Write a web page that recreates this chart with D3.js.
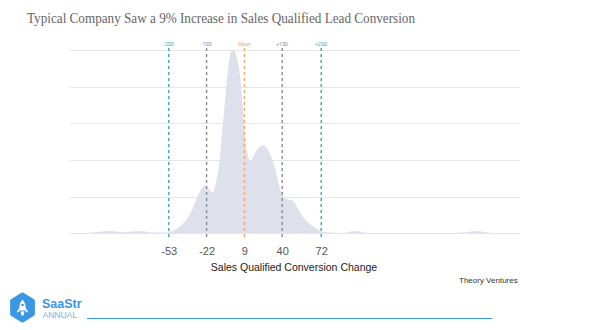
<!DOCTYPE html>
<html>
<head>
<meta charset="utf-8">
<script src="https://cdn.jsdelivr.net/npm/d3@7"></script>
<style>
  html, body { margin: 0; padding: 0; background: #fff; }
  svg { display: block; }
</style>
</head>
<body>
<svg id="chart" width="600" height="330"></svg>
<script>
// ---- data ----
const changeValues = [-134, -121.7, -109.4, -101.2, -91.4, -76.6, -66.8, -53.6, -47, -41.3, -37.2, -33.1, -29, -25.8, -22.9, -20, -16.7, -14.3, -11.8, -9.4, -6.9, -4.4, -2, 0.5, 2.9, 5.4, 7.9, 9.5, 11.2, 12.8, 14.4, 16.9, 20.2, 24.3, 27.5, 30.8, 34.1, 37.4, 40.7, 43.9, 48, 51.3, 54.6, 58.7, 62.8, 67.7, 72.6, 79.2, 87.4, 94, 99.7, 105.4, 113.6, 169.4, 190.7, 199, 207, 218.6, 235];
const densityValues = [0, 0.005, 0.04, 0.06, 0.03, 0.06, 0.02, 0.03, 0.12, 0.27, 0.44, 0.71, 1.04, 1.23, 1.31, 1.2, 1.12, 1.39, 1.86, 2.68, 3.63, 4.45, 4.95, 5.0, 4.78, 4.32, 3.36, 2.68, 2.21, 2.02, 1.99, 2.13, 2.32, 2.40, 2.32, 2.10, 1.78, 1.31, 1.01, 0.93, 0.90, 0.77, 0.57, 0.38, 0.25, 0.14, 0.05, 0.02, 0.01, 0.03, 0.06, 0.03, 0.01, 0.005, 0.03, 0.06, 0.03, 0, 0];
const markerValues = [-53, -22, 9, 40, 72];
const markerLabels = ["-2SD", "-1SD", "Mean", "+1SD", "+2SD"];
const markerKinds = ["sd2", "sd1", "mean", "sd1", "sd2"];
const gridTicks = [0, 1, 2, 3, 4, 5];

const titleText = "Typical Company Saw a 9% Increase in Sales Qualified Lead Conversion";
const xTitle = "Sales Qualified Conversion Change";
const sourceText = "Theory Ventures";

// ---- drawing ----
const svg = d3.select("#chart");
const x = d3.scaleLinear().domain([-134, 235]).range([70, 520]);
const y = d3.scaleLinear().domain([0, 5]).range([233.3, 50]);

const colors = { sd2: "#3fa7b5", sd1: "#8c8c98", mean: "#f2a977" };

svg.append("text")
  .attr("x", 27).attr("y", 23)
  .attr("font-family", "'Liberation Serif', 'Times New Roman', serif")
  .attr("font-size", 15)
  .attr("textLength", 388)
  .attr("lengthAdjust", "spacingAndGlyphs")
  .attr("fill", "#666")
  .text(titleText);

// gridlines
svg.append("g").selectAll("line").data(gridTicks).join("line")
  .attr("x1", 70).attr("x2", 520)
  .attr("y1", d => Math.round(y(d)) + 0.5).attr("y2", d => Math.round(y(d)) + 0.5)
  .attr("stroke", "#e6e6e9").attr("stroke-width", 1);

// density area
const pts = changeValues.map((v, i) => [v, densityValues[i]]);
const area = d3.area()
  .x(d => x(d[0]))
  .y0(y(0))
  .y1(d => y(d[1]))
  .curve(d3.curveMonotoneX);
svg.append("path").datum(pts)
  .attr("d", area)
  .attr("fill", "#dee1ec");

// marker lines
const mk = svg.append("g");
markerValues.forEach((v, i) => {
  const c = colors[markerKinds[i]];
  mk.append("line")
    .attr("x1", x(v)).attr("x2", x(v))
    .attr("y1", 48).attr("y2", 237)
    .attr("stroke", c).attr("stroke-width", 1.4)
    .attr("stroke-dasharray", "3,3");
  mk.append("text")
    .attr("x", x(v)).attr("y", 46)
    .attr("text-anchor", "middle")
    .attr("font-family", "Roboto, 'Liberation Sans', sans-serif")
    .attr("font-size", 5)
    .attr("fill", c)
    .text(markerLabels[i]);
});

// x axis tick labels (values at marker positions)
const xAxis = d3.axisBottom(x).tickValues(markerValues).tickSize(0).tickPadding(0).tickFormat(d => String(d));
const ax = svg.append("g").attr("transform", "translate(0,247.5)").call(xAxis);
ax.select(".domain").remove();
ax.selectAll("text")
  .attr("font-family", "'Liberation Sans', Arial, sans-serif")
  .attr("font-size", 11)
  .attr("fill", "#555");

svg.append("text")
  .attr("x", 294).attr("y", 271)
  .attr("text-anchor", "middle")
  .attr("font-family", "'Liberation Sans', Arial, sans-serif")
  .attr("font-size", 10.5)
  .attr("fill", "#222")
  .text(xTitle);

svg.append("text")
  .attr("x", 459).attr("y", 283)
  .attr("font-family", "'Liberation Sans', Arial, sans-serif")
  .attr("font-size", 8)
  .attr("fill", "#333")
  .text(sourceText);

// footer logo
const blue = "#3b97e3";
const lg = svg.append("g").attr("transform", "translate(22.5,307.5)");
const hex = d3.range(6).map(k => {
  const a = Math.PI / 3 * k - Math.PI / 2;
  return [12 * Math.cos(a), 13 * Math.sin(a)];
});
lg.append("path")
  .attr("d", d3.line().curve(d3.curveLinearClosed)(hex))
  .attr("fill", blue).attr("stroke", blue).attr("stroke-width", 4).attr("stroke-linejoin", "round");
// rocket
lg.append("path")
  .attr("d", "M0,-8 C3,-5 3.5,-1 3,3 L-3,3 C-3.5,-1 -3,-5 0,-8 Z")
  .attr("fill", "#fff");
lg.append("path").attr("d", "M-3,0 L-6,5 L-3,4 Z M3,0 L6,5 L3,4 Z").attr("fill", "#fff");
lg.append("path").attr("d", "M-2,4 L2,4 L1,8 L-1,8 Z").attr("fill", "#fff");
lg.append("circle").attr("cx", 0).attr("cy", -2.5).attr("r", 1.3).attr("fill", blue);

svg.append("text")
  .attr("x", 42).attr("y", 308)
  .attr("font-family", "'Liberation Sans', Arial, sans-serif")
  .attr("font-weight", "bold")
  .attr("font-size", 12.5)
  .attr("fill", blue)
  .text("SaaStr");
svg.append("text")
  .attr("x", 42.5).attr("y", 318)
  .attr("font-family", "'Liberation Sans', Arial, sans-serif")
  .attr("font-size", 8.5)
  .attr("fill", "#6cb3ee")
  .text("ANNUAL");

svg.append("line")
  .attr("x1", 87).attr("x2", 492)
  .attr("y1", 318.5).attr("y2", 318.5)
  .attr("stroke", blue).attr("stroke-width", 1.2);
</script>
</body>
</html>
